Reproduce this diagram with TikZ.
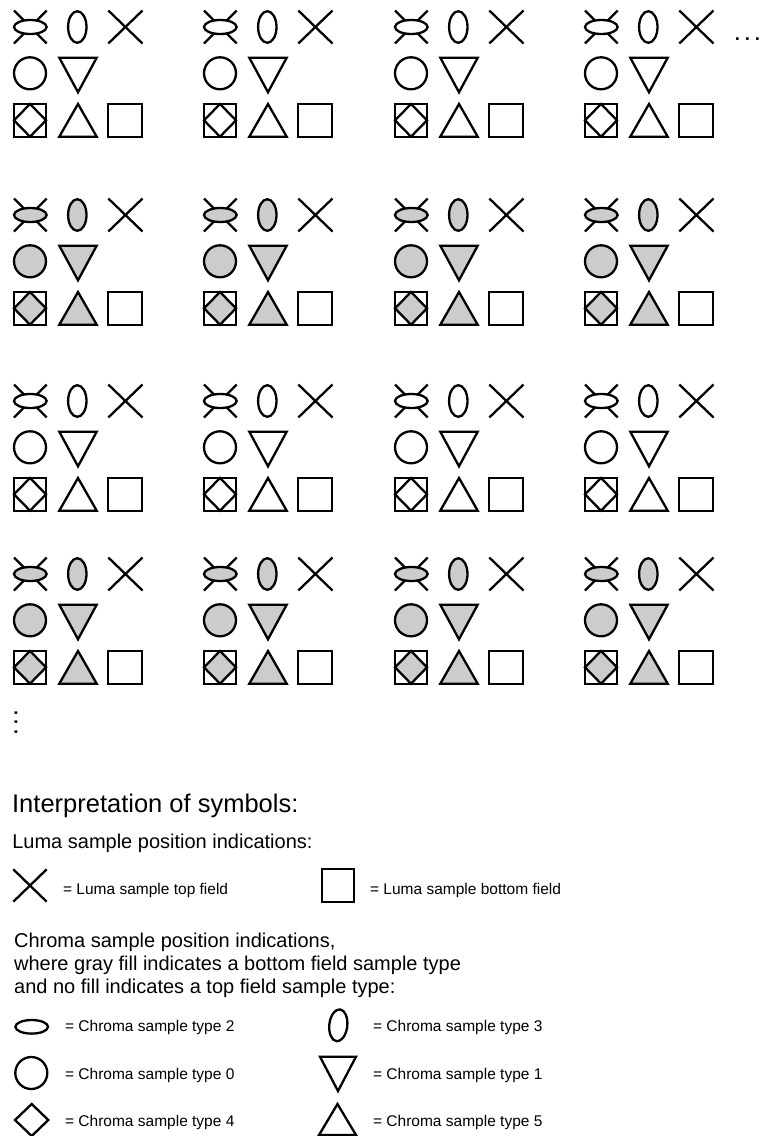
\documentclass[tikz,border=0pt]{standalone}
\usepackage{fontspec}
\setmainfont{Liberation Sans}
\usepackage{xcolor}
\definecolor{fieldgray}{HTML}{CCCCCC}

\tikzset{
  legendtext/.style={anchor=base west, inner sep=0pt, font=\fontsize{15.5}{18}\selectfont},
  headtext/.style={anchor=base west, inner sep=0pt, font=\fontsize{20}{23}\selectfont, align=left}
}

\begin{document}
\begin{tikzpicture}[x=1pt, y=-1pt, line width=2.3pt]
  \useasboundingbox (0,0) rectangle (759,1136);

  % sample grid, gray fill in the bottom field rows
  \foreach \oy/\fc in {0/white, 188/fieldgray, 374/white, 547/fieldgray} {
    \foreach \ox in {0, 190, 381, 571} {
      \begin{scope}[shift={(\ox,\oy)}]
        \draw (14,10.5) -- (46.7,43.5) (14,43.5) -- (46.7,10.5);
        \draw[fill=\fc] (30.3,27) ellipse [x radius=16.3, y radius=7];
        \draw[fill=\fc] (77.3,27) ellipse [x radius=9.2, y radius=15.8];
        \draw (108.3,10.5) -- (142.5,43.5) (108.3,43.5) -- (142.5,10.5);
        \draw[fill=\fc] (30,73.3) circle [radius=16];
        \draw[fill=\fc] (59.3,57.7) -- (96.7,57.7) -- (78,92.3) -- cycle;
        \draw (14,104) rectangle (46,136.7);
        \draw[fill=\fc] (30,104) -- (46,120.3) -- (30,136.7) -- (14,120.3) -- cycle;
        \draw[fill=\fc] (59.3,136.7) -- (96.7,136.7) -- (78,104) -- cycle;
        \draw (108.3,104) rectangle (141.7,136.7);
      \end{scope}
    }
  }
  \node[anchor=base west, inner sep=0pt, font=\fontsize{26}{26}\selectfont] (moredots) at (732.6,40.7) {.\kern2.8pt.\kern2.8pt.};
  \node[inner sep=0pt, font=\fontsize{26}{26}\selectfont, rotate=-90] (vdots) at (16,722.2) {.\kern2.3pt.\kern2.3pt.};

  % legend
  \node[anchor=base west, inner sep=0pt, font=\fontsize{25.5}{28}\selectfont] (title) at (11,812.7) {Interpretation of symbols:};
  \node[headtext] (lumahead) at (11.2,848) {Luma sample position indications:};

  \draw (13.3,869.3) -- (46.7,901.7) (13.3,901.7) -- (46.7,869.3);
  \node[legendtext] (lumatop) at (62,894.5) {= Luma sample top field};
  \draw (321.7,869.3) rectangle (354,901.7);
  \node[legendtext] (lumabot) at (369,894.5) {= Luma sample bottom field};

  \node[headtext] (chromahead) at (13,993) {Chroma sample position indications,\\
    where gray fill indicates a bottom field sample type\\
    and no fill indicates a top field sample type:};

  \draw (31.7,1026.8) ellipse [x radius=16.3, y radius=6.8];
  \node[legendtext] (chroma2) at (64,1031.7) {= Chroma sample type 2};
  \draw[rotate around={-6:(338.3,1025.3)}] (338.3,1025.3) ellipse [x radius=9, y radius=16];
  \node[legendtext] (chroma3) at (372,1031.7) {= Chroma sample type 3};

  \draw (31.3,1073) circle [radius=16];
  \node[legendtext] (chroma0) at (64,1079) {= Chroma sample type 0};
  \draw (320,1056.7) -- (356,1056.7) -- (338,1091) -- cycle;
  \node[legendtext] (chroma1) at (372,1079) {= Chroma sample type 1};

  \draw (15,1120) -- (31.7,1104) -- (48.3,1120) -- (31.7,1136) -- cycle;
  \node[legendtext] (chroma4) at (64,1126.7) {= Chroma sample type 4};
  \draw (319,1135) -- (356,1135) -- (337.5,1104) -- cycle;
  \node[legendtext] (chroma5) at (372,1126.7) {= Chroma sample type 5};
\end{tikzpicture}
\end{document}
